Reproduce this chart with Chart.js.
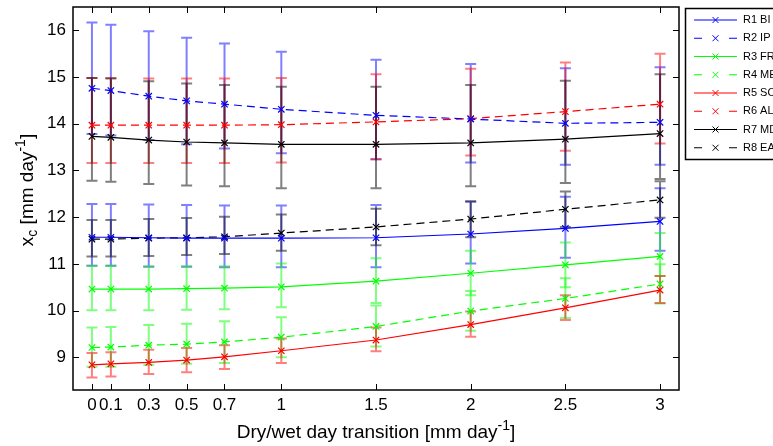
<!DOCTYPE html>
<html>
<head>
<meta charset="utf-8">
<script src="https://cdn.jsdelivr.net/npm/chart.js@4.4.0/dist/chart.umd.min.js"></script>
<style>
  html, body { margin: 0; padding: 0; background: #fff; overflow: hidden; }
  #wrap { width: 773px; height: 446px; }
</style>
</head>
<body>
<div id="wrap"><canvas id="chart" width="773" height="446"></canvas></div>
<script>
// x positions (dry/wet day transition, mm/day) and tick labels
const xValues = [0, 0.1, 0.3, 0.5, 0.7, 1, 1.5, 2, 2.5, 3];
const xTicks = [0, 0.1, 0.3, 0.5, 0.7, 1, 1.5, 2, 2.5, 3];
const yTicks = [9, 10, 11, 12, 13, 14, 15, 16];

const seriesNames = ['R1 BI', 'R2 IP', 'R3 FR', 'R4 ME', 'R5 SO', 'R6 AL', 'R7 MD', 'R8 EA'];

// mean, upper and lower error bar ends
const r1Mean  = [11.57, 11.57, 11.56, 11.55, 11.55, 11.55, 11.56, 11.64, 11.76, 11.91];
const r1Upper = [12.28, 12.28, 12.27, 12.26, 12.25, 12.25, 12.26, 12.33, 12.44, 12.62];
const r1Lower = [10.96, 10.96, 10.94, 10.94, 10.93, 10.93, 10.93, 11.01, 11.13, 11.28];

const r2Mean  = [14.76, 14.71, 14.59, 14.49, 14.42, 14.31, 14.18, 14.10, 14.01, 14.03];
const r2Upper = [16.17, 16.12, 15.98, 15.84, 15.72, 15.54, 15.37, 15.28, 15.19, 15.21];
const r2Lower = [13.78, 13.75, 13.65, 13.56, 13.47, 13.37, 13.24, 13.17, 13.12, 13.12];

const r3Mean  = [10.46, 10.46, 10.46, 10.47, 10.48, 10.51, 10.63, 10.80, 10.98, 11.16];
const r3Upper = [10.96, 10.96, 10.95, 10.95, 10.95, 11.01, 11.12, 11.28, 11.46, 11.66];
const r3Lower = [10.01, 10.01, 10.01, 10.02, 10.03, 10.07, 10.16, 10.33, 10.50, 10.74];

const r4Mean  = [9.21, 9.22, 9.26, 9.28, 9.33, 9.43, 9.66, 9.99, 10.26, 10.57];
const r4Upper = [9.64, 9.65, 9.69, 9.72, 9.77, 9.86, 10.11, 10.42, 10.69, 10.99];
const r4Lower = [8.80, 8.80, 8.84, 8.86, 8.88, 9.00, 9.23, 9.57, 9.84, 10.15];

const r5Mean  = [8.84, 8.86, 8.89, 8.94, 9.01, 9.14, 9.37, 9.70, 10.06, 10.44];
const r5Upper = [9.09, 9.11, 9.16, 9.20, 9.26, 9.40, 9.64, 9.98, 10.33, 10.74];
const r5Lower = [8.57, 8.59, 8.64, 8.68, 8.75, 8.88, 9.13, 9.44, 9.80, 10.16];

const r6Mean  = [13.97, 13.97, 13.97, 13.97, 13.97, 13.98, 14.04, 14.11, 14.26, 14.42];
const r6Upper = [14.98, 14.98, 14.97, 14.97, 14.97, 14.98, 15.06, 15.18, 15.31, 15.50];
const r6Lower = [13.16, 13.16, 13.16, 13.16, 13.16, 13.17, 13.24, 13.32, 13.42, 13.58];

const r7Mean  = [13.73, 13.71, 13.65, 13.61, 13.59, 13.56, 13.56, 13.59, 13.67, 13.79];
const r7Upper = [14.98, 14.97, 14.91, 14.86, 14.83, 14.79, 14.79, 14.83, 14.92, 15.06];
const r7Lower = [12.78, 12.76, 12.71, 12.68, 12.66, 12.62, 12.62, 12.66, 12.73, 12.82];

const r8Mean  = [11.53, 11.53, 11.55, 11.56, 11.58, 11.66, 11.79, 11.96, 12.17, 12.37];
const r8Upper = [11.94, 11.94, 11.96, 11.98, 12.01, 12.06, 12.18, 12.34, 12.55, 12.77];
const r8Lower = [11.16, 11.16, 11.17, 11.19, 11.21, 11.28, 11.40, 11.57, 11.79, 11.99];

const FONT = 'Liberation Sans, Arial, Helvetica, sans-serif';

const series = [
    { name: seriesNames[0], color: '0,0,255',   dashed: false, mean: r1Mean, upper: r1Upper, lower: r1Lower },
    { name: seriesNames[1], color: '0,0,255',   dashed: true,  mean: r2Mean, upper: r2Upper, lower: r2Lower },
    { name: seriesNames[2], color: '0,255,0',   dashed: false, mean: r3Mean, upper: r3Upper, lower: r3Lower },
    { name: seriesNames[3], color: '0,255,0',   dashed: true,  mean: r4Mean, upper: r4Upper, lower: r4Lower },
    { name: seriesNames[4], color: '255,0,0',   dashed: false, mean: r5Mean, upper: r5Upper, lower: r5Lower },
    { name: seriesNames[5], color: '255,0,0',   dashed: true,  mean: r6Mean, upper: r6Upper, lower: r6Lower },
    { name: seriesNames[6], color: '0,0,0',     dashed: false, mean: r7Mean, upper: r7Upper, lower: r7Lower },
    { name: seriesNames[7], color: '0,0,0',     dashed: true,  mean: r8Mean, upper: r8Upper, lower: r8Lower }
];

// error bars, drawn under the mean lines with the chart's own scales
const errorBars = {
    id: 'errorBars',
    beforeDatasetsDraw(chart) {
        const ctx = chart.ctx;
        const xs = chart.scales.x, ys = chart.scales.y;
        const a = chart.chartArea;
        ctx.save();
        ctx.beginPath();
        ctx.rect(a.left, a.top, a.right - a.left, a.bottom - a.top);
        ctx.clip();
        ctx.lineWidth = 2;
        series.forEach(s => {
            ctx.strokeStyle = 'rgba(' + s.color + ',0.5)';
            ctx.beginPath();
            xValues.forEach((xv, i) => {
                const px = xs.getPixelForValue(xv);
                const top = ys.getPixelForValue(s.upper[i]);
                const bot = ys.getPixelForValue(s.lower[i]);
                ctx.moveTo(px, top); ctx.lineTo(px, bot);
                ctx.moveTo(px - 5.5, top); ctx.lineTo(px + 5.5, top);
                ctx.moveTo(px - 5.5, bot); ctx.lineTo(px + 5.5, bot);
            });
            ctx.stroke();
        });
        ctx.restore();
    }
};

// matlab style box with inward ticks on all four sides
const axesBox = {
    id: 'axesBox',
    afterDatasetsDraw(chart) {
        const ctx = chart.ctx;
        const a = chart.chartArea;
        const xs = chart.scales.x, ys = chart.scales.y;
        ctx.save();
        ctx.strokeStyle = '#000';
        ctx.lineWidth = 1;
        ctx.beginPath();
        xs.ticks.forEach(t => {
            const px = Math.round(xs.getPixelForValue(t.value)) + 0.5;
            ctx.moveTo(px, a.bottom); ctx.lineTo(px, a.bottom - 6);
            ctx.moveTo(px, a.top); ctx.lineTo(px, a.top + 6);
        });
        ys.ticks.forEach(t => {
            const py = Math.round(ys.getPixelForValue(t.value)) + 0.5;
            ctx.moveTo(a.left, py); ctx.lineTo(a.left + 6, py);
            ctx.moveTo(a.right, py); ctx.lineTo(a.right - 6, py);
        });
        ctx.stroke();
        ctx.lineWidth = 1.5;
        ctx.strokeRect(a.left, a.top, a.right - a.left, a.bottom - a.top);
        ctx.restore();
    }
};

// axis titles with sub/superscripts
function drawPieces(ctx, pieces, cx, cy, size) {
    const small = Math.round(size * 0.72);
    let total = 0;
    pieces.forEach(p => {
        ctx.font = (p.shift ? small : size) + 'px ' + FONT;
        p.w = ctx.measureText(p.t).width;
        total += p.w;
    });
    let x = cx - total / 2;
    pieces.forEach(p => {
        ctx.font = (p.shift ? small : size) + 'px ' + FONT;
        ctx.fillText(p.t, x, cy + (p.shift || 0));
        x += p.w;
    });
}

const axisTitles = {
    id: 'axisTitles',
    afterDraw(chart) {
        const ctx = chart.ctx;
        ctx.save();
        ctx.fillStyle = '#000';
        ctx.textBaseline = 'alphabetic';
        ctx.textAlign = 'left';
        drawPieces(ctx, [
            { t: 'Dry/wet day transition [mm day' },
            { t: '-1', shift: -8 },
            { t: ']' }
        ], 376, 438, 19);
        ctx.translate(33, 190);
        ctx.rotate(-Math.PI / 2);
        drawPieces(ctx, [
            { t: 'x' },
            { t: 'c', shift: 4 },
            { t: ' [mm day' },
            { t: '-1', shift: -8 },
            { t: ']' }
        ], 0, 0, 19);
        ctx.restore();
    }
};

// legend box at the right edge, partly cut off like the original
const sideLegend = {
    id: 'sideLegend',
    afterDraw(chart) {
        const ctx = chart.ctx;
        ctx.save();
        ctx.fillStyle = '#fff';
        ctx.fillRect(685, 8, 120, 151);
        ctx.strokeStyle = '#000';
        ctx.lineWidth = 1.5;
        ctx.strokeRect(685.5, 8.5, 120, 151);
        ctx.textBaseline = 'middle';
        ctx.font = '11px ' + FONT;
        series.forEach((s, i) => {
            const y = 20 + i * 18.25;
            ctx.strokeStyle = 'rgb(' + s.color + ')';
            ctx.lineWidth = 1;
            ctx.beginPath();
            if (s.dashed) {
                ctx.moveTo(694, y); ctx.lineTo(702, y);
                ctx.moveTo(729, y); ctx.lineTo(737, y);
            } else {
                ctx.moveTo(694, y); ctx.lineTo(737, y);
            }
            ctx.moveTo(712.5, y - 3); ctx.lineTo(718.5, y + 3);
            ctx.moveTo(718.5, y - 3); ctx.lineTo(712.5, y + 3);
            ctx.stroke();
            ctx.fillStyle = '#000';
            ctx.fillText(s.name, 743, y);
        });
        ctx.restore();
    }
};

const datasets = series.map(s => ({
    label: s.name,
    data: xValues.map((x, i) => ({ x: x, y: s.mean[i] })),
    borderColor: 'rgb(' + s.color + ')',
    backgroundColor: 'rgb(' + s.color + ')',
    borderWidth: 1.2,
    borderDash: s.dashed ? [8, 5] : [],
    pointStyle: 'crossRot',
    pointRadius: 4.5,
    pointBorderWidth: 1.2,
    pointBorderColor: 'rgb(' + s.color + ')',
    fill: false,
    tension: 0
}));

const chart = new Chart(document.getElementById('chart'), {
    type: 'line',
    data: { datasets: datasets },
    options: {
        responsive: false,
        animation: false,
        devicePixelRatio: 1,
        layout: { padding: { top: 7, right: 94, left: 0, bottom: 0 } },
        plugins: { legend: { display: false }, tooltip: { enabled: false } },
        scales: {
            x: {
                type: 'linear',
                min: -0.1,
                max: 3.1,
                afterBuildTicks: s => { s.ticks = xTicks.map(v => ({ value: v })); },
                afterFit: s => { s.height = 56; s.paddingLeft = 0; s.paddingRight = 0; },
                grid: { display: false, drawTicks: false },
                border: { display: false },
                ticks: {
                    autoSkip: false,
                    maxRotation: 0,
                    padding: 5,
                    color: '#000',
                    font: { family: FONT, size: 17 },
                    callback: v => String(v)
                }
            },
            y: {
                type: 'linear',
                min: 8.3,
                max: 16.5,
                afterBuildTicks: s => { s.ticks = yTicks.map(v => ({ value: v })); },
                afterFit: s => { s.width = 73; s.paddingTop = 0; s.paddingBottom = 0; },
                grid: { display: false, drawTicks: false },
                border: { display: false },
                ticks: {
                    padding: 7,
                    color: '#000',
                    font: { family: FONT, size: 17 },
                    callback: v => String(v)
                }
            }
        }
    },
    plugins: [errorBars, axesBox, axisTitles, sideLegend]
});
</script>
</body>
</html>
